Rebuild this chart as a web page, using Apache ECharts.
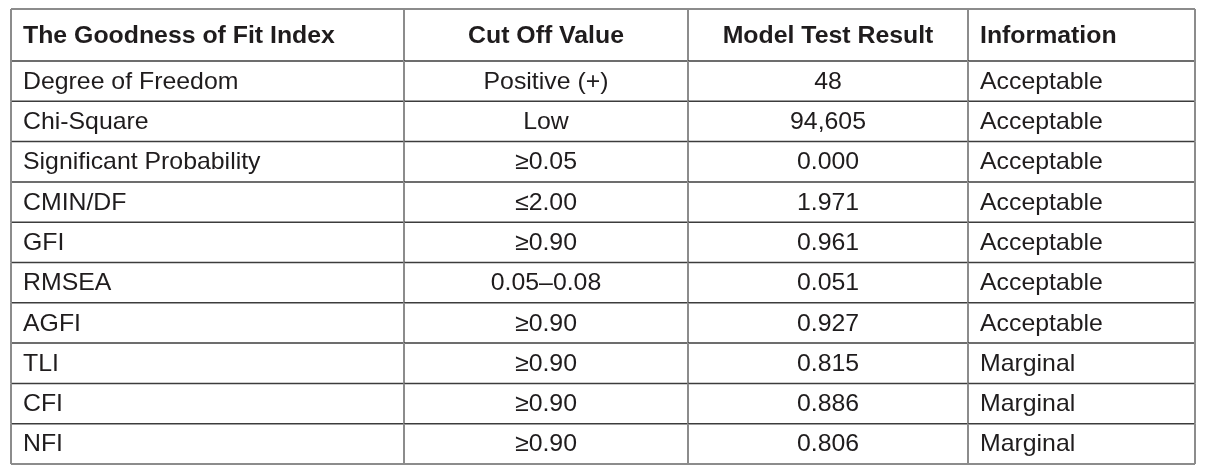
<!DOCTYPE html>
<html>
<head>
<meta charset="utf-8">
<script src="https://cdn.jsdelivr.net/npm/echarts@6/dist/echarts.min.js"></script>
<style>
html,body{margin:0;padding:0;background:#fff;}
#chart{width:1215px;height:466px;}
</style>
</head>
<body>
<div id="chart"></div>
<script>
// ---- data ----
const headers = ['The Goodness of Fit Index', 'Cut Off Value', 'Model Test Result', 'Information'];
const fitIndex = ['Degree of Freedom', 'Chi-Square', 'Significant Probability', 'CMIN/DF', 'GFI', 'RMSEA', 'AGFI', 'TLI', 'CFI', 'NFI'];
const cutOffValue = ['Positive (+)', 'Low', '≥0.05', '≤2.00', '≥0.90', '0.05–0.08', '≥0.90', '≥0.90', '≥0.90', '≥0.90'];
const modelTestResult = ['48', '94,605', '0.000', '1.971', '0.961', '0.051', '0.927', '0.815', '0.886', '0.806'];
const information = ['Acceptable', 'Acceptable', 'Acceptable', 'Acceptable', 'Acceptable', 'Acceptable', 'Acceptable', 'Marginal', 'Marginal', 'Marginal'];

// ---- layout (not data) ----
const colEdges = [0, 393, 677, 957, 1184];
const colAlign = ['left', 'center', 'center', 'left'];
const headerH = 1.29;
const nRows = fitIndex.length;
const yMax = headerH + nRows;

const columns = [fitIndex, cutOffValue, modelTestResult, information];
const cells = [];
headers.forEach((h, c) => cells.push([-1, c, h]));
for (let r = 0; r < nRows; r++) {
  for (let c = 0; c < 4; c++) cells.push([r, c, columns[c][r]]);
}

const outerColor = '#8c8c8c';
const vColor = '#8c8c8c';
const hColor = '#3c3c3c';
const textColor = '#1f1c1d';
const fontFamily = '"Liberation Sans", Arial, Helvetica, sans-serif';

function renderItem(params, api) {
  const r = api.value(0), c = api.value(1);
  const text = cells[params.dataIndex][2];
  const y0v = r < 0 ? 0 : headerH + r;
  const y1v = r < 0 ? headerH : headerH + r + 1;
  const p0 = api.coord([colEdges[c], y0v]);
  const p1 = api.coord([colEdges[c + 1], y1v]);
  const x0 = p0[0], x1 = p1[0], y0 = p0[1], y1 = p1[1];
  const children = [];
  const isLast = r === nRows - 1;
  children.push({type: 'line', shape: {x1: x0, y1: y1, x2: x1, y2: y1},
    style: {stroke: isLast ? outerColor : hColor, lineWidth: isLast ? 2 : 1.5}});
  children.push({type: 'line', shape: {x1: x1, y1: y0, x2: x1, y2: y1},
    style: {stroke: c === 3 ? outerColor : vColor, lineWidth: 2}});
  if (c === 0) children.push({type: 'line', shape: {x1: x0, y1: y0, x2: x0, y2: y1},
    style: {stroke: outerColor, lineWidth: 2}});
  if (r < 0) children.push({type: 'line', shape: {x1: x0, y1: y0, x2: x1, y2: y0},
    style: {stroke: outerColor, lineWidth: 2}});
  const align = colAlign[c];
  const tx = align === 'left' ? x0 + 12 : (x0 + x1) / 2;
  children.push({type: 'text', x: tx, y: (y0 + y1) / 2 + 1, scaleX: 1.035, style: {
    x: 0, y: 0, text: text,
    fill: textColor, fontSize: 24, fontWeight: r < 0 ? 'bold' : 'normal', fontFamily: fontFamily,
    align: align, verticalAlign: 'middle', textAlign: align, textVerticalAlign: 'middle'
  }});
  return {type: 'group', children: children};
}

const chart = echarts.init(document.getElementById('chart'), null, {renderer: 'canvas'});
chart.setOption({
  animation: false,
  backgroundColor: '#ffffff',
  grid: {left: 11, top: 9, width: 1184, height: 455},
  xAxis: {type: 'value', min: 0, max: colEdges[4], show: false},
  yAxis: {type: 'value', min: 0, max: yMax, inverse: true, show: false},
  series: [{
    type: 'custom',
    renderItem: renderItem,
    data: cells.map(d => [d[0], d[1]]),
    clip: false
  }]
});
</script>
</body>
</html>
